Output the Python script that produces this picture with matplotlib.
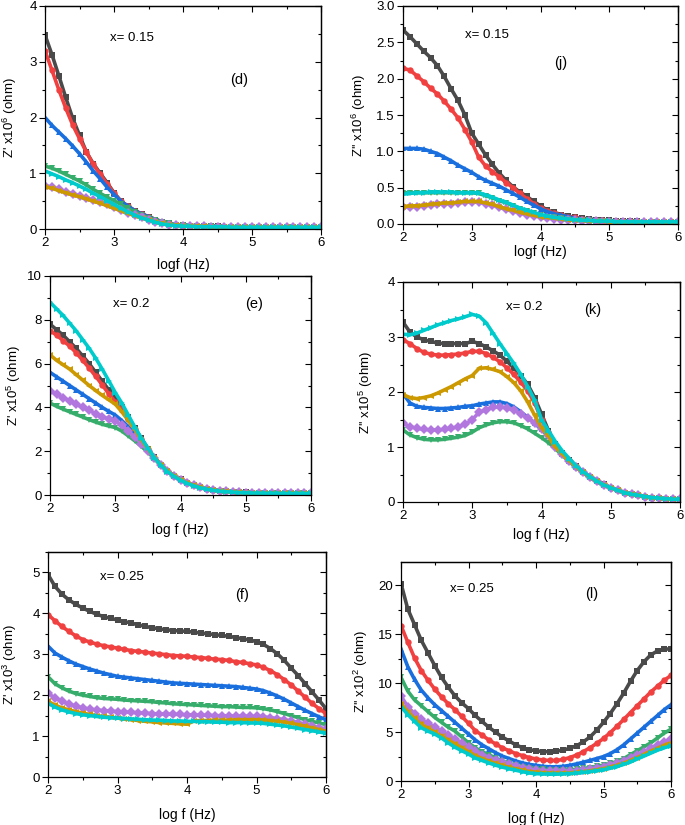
import numpy as np
import matplotlib
matplotlib.use("Agg")
import matplotlib.pyplot as plt
from matplotlib.ticker import MultipleLocator, FormatStrFormatter

plt.rcParams['font.family'] = ['Liberation Sans', 'DejaVu Sans']
plt.rcParams['mathtext.fontset'] = 'custom'
plt.rcParams['mathtext.rm'] = 'Liberation Sans'
plt.rcParams['mathtext.it'] = 'Liberation Sans:italic'

# log f grid (Hz), same for all panels
logf = [2.0, 2.1, 2.2, 2.3, 2.4, 2.5, 2.6, 2.7, 2.8, 2.9,
        3.0, 3.1, 3.2, 3.3, 3.4, 3.5, 3.6, 3.7, 3.8, 3.9,
        4.0, 4.1, 4.2, 4.3, 4.4, 4.5, 4.6, 4.7, 4.8, 4.9,
        5.0, 5.1, 5.2, 5.3, 5.4, 5.5, 5.6, 5.7, 5.8, 5.9,
        6.0]

# series order: black, red, blue, green, purple, gold, cyan
colors = ['#4a4a4a', '#f14040', '#1a6fdf', '#37ad6b', '#b177de', '#cc9900', '#00cbcc']
markers = ['s', 'o', '^', 'v', 'D', '<', '>']

# (d) Z' x10^6, x = 0.15
d_black = [3.48, 3.13, 2.75, 2.36, 1.99, 1.68, 1.38, 1.17, 1.00, 0.83,
           0.65, 0.50, 0.41, 0.33, 0.27, 0.22, 0.17, 0.13, 0.10, 0.08,
           0.07, 0.06, 0.06, 0.05, 0.05, 0.05, 0.04, 0.04, 0.04, 0.04,
           0.04, 0.04, 0.03, 0.03, 0.03, 0.03, 0.03, 0.03, 0.03, 0.03, 0.03]
d_red = [3.20, 2.85, 2.50, 2.17, 1.87, 1.62, 1.38, 1.16, 0.98, 0.81,
         0.64, 0.50, 0.41, 0.33, 0.27, 0.22, 0.17, 0.13, 0.10, 0.08,
         0.07, 0.06, 0.06, 0.05, 0.05, 0.05, 0.04, 0.04, 0.04, 0.04,
         0.04, 0.04, 0.03, 0.03, 0.03, 0.03, 0.03, 0.03, 0.03, 0.03, 0.03]
d_blue = [2.00, 1.86, 1.74, 1.62, 1.49, 1.35, 1.20, 1.04, 0.90, 0.75,
          0.62, 0.50, 0.41, 0.33, 0.27, 0.22, 0.17, 0.13, 0.10, 0.08,
          0.07, 0.06, 0.06, 0.05, 0.05, 0.05, 0.04, 0.04, 0.04, 0.04,
          0.04, 0.04, 0.03, 0.03, 0.03, 0.03, 0.03, 0.03, 0.03, 0.03, 0.03]
d_green = [1.13, 1.09, 1.04, 0.98, 0.92, 0.86, 0.79, 0.71, 0.64, 0.57,
           0.51, 0.44, 0.37, 0.31, 0.25, 0.20, 0.16, 0.12, 0.10, 0.08,
           0.07, 0.06, 0.05, 0.05, 0.05, 0.04, 0.04, 0.04, 0.04, 0.04,
           0.04, 0.03, 0.03, 0.03, 0.03, 0.03, 0.03, 0.03, 0.03, 0.03, 0.03]
d_purple = [0.78, 0.75, 0.71, 0.67, 0.63, 0.60, 0.56, 0.52, 0.48, 0.44,
            0.39, 0.34, 0.29, 0.25, 0.21, 0.17, 0.13, 0.10, 0.08, 0.07,
            0.06, 0.05, 0.05, 0.05, 0.04, 0.04, 0.04, 0.04, 0.04, 0.04,
            0.03, 0.03, 0.03, 0.03, 0.03, 0.03, 0.03, 0.03, 0.03, 0.03, 0.03]
d_gold = [0.76, 0.73, 0.69, 0.65, 0.61, 0.58, 0.54, 0.50, 0.46, 0.42,
          0.37, 0.33, 0.28, 0.24, 0.20, 0.16, 0.13, 0.10, 0.08, 0.07,
          0.06, 0.05, 0.05, 0.05, 0.04, 0.04, 0.04, 0.04, 0.04, 0.04,
          0.03, 0.03, 0.03, 0.03, 0.03, 0.03, 0.03, 0.03, 0.03, 0.03, 0.03]
d_cyan = [1.04, 0.99, 0.94, 0.88, 0.83, 0.77, 0.71, 0.64, 0.58, 0.51,
          0.44, 0.37, 0.31, 0.25, 0.20, 0.16, 0.12, 0.09, 0.07, 0.06,
          0.05, 0.05, 0.04, 0.04, 0.04, 0.04, 0.04, 0.03, 0.03, 0.03,
          0.03, 0.03, 0.03, 0.03, 0.03, 0.03, 0.03, 0.03, 0.03, 0.03, 0.03]

# (j) Z'' x10^6, x = 0.15
j_black = [2.67, 2.58, 2.48, 2.38, 2.29, 2.18, 2.03, 1.86, 1.70, 1.50,
           1.25, 1.10, 0.95, 0.82, 0.70, 0.60, 0.51, 0.44, 0.38, 0.31,
           0.25, 0.19, 0.16, 0.13, 0.11, 0.09, 0.08, 0.07, 0.06, 0.05,
           0.05, 0.04, 0.04, 0.04, 0.04, 0.03, 0.03, 0.03, 0.03, 0.03, 0.03]
j_red = [2.14, 2.12, 2.04, 1.96, 1.87, 1.79, 1.69, 1.58, 1.46, 1.30,
         1.13, 0.92, 0.80, 0.72, 0.65, 0.57, 0.50, 0.42, 0.35, 0.28,
         0.22, 0.18, 0.15, 0.12, 0.10, 0.09, 0.07, 0.06, 0.05, 0.05,
         0.04, 0.04, 0.04, 0.04, 0.03, 0.03, 0.03, 0.03, 0.03, 0.03, 0.03]
j_blue = [1.04, 1.04, 1.04, 1.03, 1.00, 0.97, 0.92, 0.87, 0.81, 0.76,
          0.71, 0.65, 0.60, 0.56, 0.52, 0.47, 0.42, 0.37, 0.31, 0.26,
          0.21, 0.17, 0.14, 0.12, 0.10, 0.08, 0.07, 0.06, 0.05, 0.05,
          0.04, 0.04, 0.04, 0.04, 0.03, 0.03, 0.03, 0.03, 0.03, 0.03, 0.03]
j_green = [0.43, 0.43, 0.43, 0.43, 0.43, 0.43, 0.43, 0.43, 0.43, 0.43,
           0.43, 0.42, 0.39, 0.36, 0.32, 0.29, 0.25, 0.21, 0.18, 0.15,
           0.12, 0.10, 0.09, 0.08, 0.07, 0.06, 0.05, 0.05, 0.04, 0.04,
           0.04, 0.03, 0.03, 0.03, 0.03, 0.03, 0.03, 0.03, 0.03, 0.03, 0.03]
j_purple = [0.23, 0.24, 0.24, 0.25, 0.26, 0.27, 0.28, 0.28, 0.29, 0.30,
            0.30, 0.30, 0.28, 0.26, 0.23, 0.20, 0.18, 0.15, 0.13, 0.11,
            0.10, 0.08, 0.07, 0.06, 0.05, 0.05, 0.04, 0.04, 0.04, 0.03,
            0.03, 0.03, 0.03, 0.03, 0.03, 0.03, 0.03, 0.03, 0.03, 0.03, 0.03]
j_gold = [0.24, 0.25, 0.25, 0.26, 0.27, 0.28, 0.29, 0.29, 0.30, 0.31,
          0.31, 0.31, 0.29, 0.27, 0.24, 0.21, 0.19, 0.16, 0.14, 0.12,
          0.10, 0.09, 0.08, 0.07, 0.06, 0.05, 0.05, 0.04, 0.04, 0.04,
          0.03, 0.03, 0.03, 0.03, 0.03, 0.03, 0.03, 0.03, 0.03, 0.03, 0.03]
j_cyan = [0.41, 0.42, 0.43, 0.43, 0.44, 0.44, 0.44, 0.44, 0.43, 0.43,
          0.43, 0.43, 0.40, 0.37, 0.33, 0.30, 0.26, 0.22, 0.19, 0.16,
          0.13, 0.11, 0.09, 0.08, 0.07, 0.06, 0.05, 0.05, 0.04, 0.04,
          0.04, 0.03, 0.03, 0.03, 0.03, 0.03, 0.03, 0.03, 0.03, 0.03, 0.03]

# (e) Z' x10^5, x = 0.2
e_black = [7.80, 7.55, 7.30, 7.00, 6.70, 6.35, 6.00, 5.60, 5.20, 4.80,
           4.45, 4.00, 3.55, 3.05, 2.58, 2.12, 1.72, 1.38, 1.10, 0.88,
           0.72, 0.57, 0.45, 0.36, 0.29, 0.24, 0.20, 0.17, 0.15, 0.13,
           0.12, 0.11, 0.10, 0.10, 0.09, 0.09, 0.09, 0.08, 0.08, 0.08, 0.08]
e_red = [7.50, 7.30, 7.05, 6.80, 6.50, 6.15, 5.80, 5.42, 5.03, 4.62,
         4.25, 3.90, 3.48, 3.02, 2.56, 2.11, 1.71, 1.37, 1.09, 0.87,
         0.71, 0.56, 0.45, 0.36, 0.29, 0.24, 0.20, 0.17, 0.15, 0.13,
         0.12, 0.11, 0.10, 0.10, 0.09, 0.09, 0.09, 0.08, 0.08, 0.08, 0.08]
e_blue = [5.60, 5.40, 5.20, 5.00, 4.80, 4.60, 4.40, 4.20, 4.00, 3.82,
          3.65, 3.40, 3.12, 2.80, 2.45, 2.05, 1.68, 1.36, 1.09, 0.87,
          0.70, 0.56, 0.44, 0.35, 0.28, 0.23, 0.19, 0.16, 0.14, 0.12,
          0.11, 0.10, 0.10, 0.09, 0.09, 0.08, 0.08, 0.08, 0.08, 0.07, 0.07]
e_green = [4.20, 4.05, 3.92, 3.80, 3.68, 3.56, 3.44, 3.33, 3.23, 3.15,
           3.08, 2.92, 2.70, 2.47, 2.22, 1.95, 1.66, 1.36, 1.09, 0.87,
           0.70, 0.56, 0.44, 0.35, 0.28, 0.23, 0.19, 0.16, 0.14, 0.12,
           0.11, 0.10, 0.10, 0.09, 0.09, 0.08, 0.08, 0.08, 0.08, 0.07, 0.07]
e_purple = [4.75, 4.60, 4.45, 4.30, 4.15, 4.00, 3.86, 3.72, 3.58, 3.47,
            3.38, 3.18, 2.92, 2.65, 2.35, 2.02, 1.68, 1.36, 1.09, 0.87,
            0.70, 0.56, 0.44, 0.35, 0.28, 0.23, 0.19, 0.16, 0.14, 0.12,
            0.11, 0.10, 0.10, 0.09, 0.09, 0.08, 0.08, 0.08, 0.08, 0.07, 0.07]
e_gold = [6.40, 6.15, 5.95, 5.75, 5.50, 5.25, 5.00, 4.77, 4.55, 4.35,
          4.15, 3.80, 3.40, 2.98, 2.52, 2.10, 1.70, 1.37, 1.09, 0.87,
          0.70, 0.56, 0.44, 0.35, 0.28, 0.23, 0.19, 0.16, 0.14, 0.12,
          0.11, 0.10, 0.10, 0.09, 0.09, 0.08, 0.08, 0.08, 0.08, 0.07, 0.07]
e_cyan = [8.80, 8.50, 8.20, 7.85, 7.50, 7.10, 6.70, 6.25, 5.75, 5.22,
          4.68, 4.20, 3.65, 3.10, 2.60, 2.15, 1.70, 1.35, 1.07, 0.85,
          0.67, 0.53, 0.42, 0.33, 0.26, 0.21, 0.17, 0.15, 0.13, 0.11,
          0.10, 0.09, 0.09, 0.08, 0.08, 0.08, 0.07, 0.07, 0.07, 0.07, 0.07]

# (k) Z'' x10^5, x = 0.2
k_black = [3.27, 3.09, 3.00, 2.95, 2.92, 2.89, 2.88, 2.88, 2.88, 2.88,
           2.92, 2.88, 2.82, 2.75, 2.67, 2.56, 2.44, 2.30, 2.14, 1.90,
           1.60, 1.30, 1.05, 0.90, 0.77, 0.65, 0.55, 0.46, 0.39, 0.32,
           0.26, 0.21, 0.17, 0.14, 0.12, 0.10, 0.08, 0.07, 0.06, 0.05, 0.05]
k_red = [2.95, 2.88, 2.79, 2.72, 2.69, 2.67, 2.67, 2.68, 2.69, 2.71,
         2.74, 2.74, 2.70, 2.63, 2.55, 2.44, 2.32, 2.18, 2.02, 1.80,
         1.50, 1.28, 1.05, 0.90, 0.77, 0.65, 0.55, 0.46, 0.39, 0.32,
         0.26, 0.21, 0.17, 0.14, 0.12, 0.10, 0.08, 0.07, 0.06, 0.05, 0.05]
k_blue = [1.97, 1.80, 1.74, 1.72, 1.71, 1.70, 1.70, 1.71, 1.72, 1.74,
          1.75, 1.78, 1.80, 1.82, 1.82, 1.79, 1.73, 1.64, 1.54, 1.43,
          1.32, 1.20, 1.02, 0.88, 0.75, 0.64, 0.54, 0.45, 0.38, 0.31,
          0.26, 0.21, 0.17, 0.14, 0.12, 0.10, 0.08, 0.07, 0.06, 0.05, 0.05]
k_green = [1.31, 1.22, 1.17, 1.14, 1.13, 1.13, 1.14, 1.16, 1.18, 1.21,
           1.27, 1.35, 1.40, 1.44, 1.46, 1.46, 1.44, 1.39, 1.33, 1.25,
           1.17, 1.08, 0.97, 0.85, 0.73, 0.63, 0.53, 0.44, 0.37, 0.30,
           0.25, 0.21, 0.17, 0.14, 0.12, 0.10, 0.08, 0.07, 0.06, 0.05, 0.05]
k_purple = [1.43, 1.37, 1.34, 1.32, 1.31, 1.31, 1.32, 1.34, 1.37, 1.41,
            1.50, 1.63, 1.68, 1.72, 1.73, 1.71, 1.67, 1.60, 1.52, 1.44,
            1.33, 1.22, 1.00, 0.87, 0.75, 0.64, 0.54, 0.45, 0.38, 0.31,
            0.26, 0.21, 0.17, 0.14, 0.12, 0.10, 0.08, 0.07, 0.06, 0.05, 0.05]
k_gold = [1.95, 1.90, 1.88, 1.90, 1.93, 1.98, 2.04, 2.10, 2.17, 2.24,
          2.30, 2.43, 2.44, 2.41, 2.37, 2.28, 2.17, 2.02, 1.82, 1.58,
          1.35, 1.20, 1.00, 0.87, 0.75, 0.64, 0.54, 0.45, 0.38, 0.31,
          0.26, 0.21, 0.17, 0.14, 0.12, 0.10, 0.08, 0.07, 0.06, 0.05, 0.05]
k_cyan = [3.05, 3.04, 3.07, 3.12, 3.17, 3.22, 3.26, 3.30, 3.33, 3.37,
          3.41, 3.38, 3.26, 3.07, 2.88, 2.70, 2.52, 2.32, 2.10, 1.85,
          1.50, 1.30, 1.10, 0.93, 0.79, 0.66, 0.55, 0.46, 0.38, 0.31,
          0.26, 0.21, 0.17, 0.14, 0.12, 0.10, 0.08, 0.07, 0.06, 0.05, 0.05]

# (f) Z' x10^3, x = 0.25
f_black = [4.95, 4.66, 4.47, 4.33, 4.22, 4.13, 4.05, 3.98, 3.92, 3.88,
           3.84, 3.80, 3.76, 3.72, 3.68, 3.65, 3.62, 3.60, 3.58, 3.57,
           3.56, 3.54, 3.52, 3.50, 3.48, 3.46, 3.44, 3.41, 3.38, 3.35,
           3.31, 3.24, 3.14, 3.01, 2.85, 2.66, 2.48, 2.28, 2.08, 1.88, 1.67]
f_red = [3.97, 3.82, 3.68, 3.56, 3.45, 3.36, 3.30, 3.25, 3.21, 3.18,
         3.15, 3.12, 3.09, 3.07, 3.05, 3.03, 3.01, 2.99, 2.97, 2.96,
         2.95, 2.93, 2.92, 2.90, 2.88, 2.87, 2.85, 2.82, 2.80, 2.77,
         2.74, 2.68, 2.60, 2.50, 2.38, 2.25, 2.10, 1.95, 1.80, 1.67, 1.55]
f_blue = [3.20, 3.03, 2.93, 2.84, 2.76, 2.70, 2.64, 2.59, 2.54, 2.50,
          2.46, 2.44, 2.42, 2.40, 2.38, 2.36, 2.34, 2.32, 2.30, 2.29,
          2.28, 2.27, 2.26, 2.25, 2.24, 2.23, 2.22, 2.21, 2.19, 2.17,
          2.15, 2.11, 2.05, 1.98, 1.90, 1.81, 1.72, 1.63, 1.55, 1.47, 1.40]
f_green = [2.45, 2.28, 2.18, 2.10, 2.04, 2.00, 1.97, 1.94, 1.92, 1.91,
           1.90, 1.88, 1.87, 1.86, 1.85, 1.84, 1.82, 1.81, 1.79, 1.78,
           1.77, 1.76, 1.75, 1.74, 1.73, 1.72, 1.72, 1.71, 1.70, 1.70,
           1.69, 1.67, 1.64, 1.60, 1.55, 1.50, 1.45, 1.40, 1.36, 1.32, 1.28]
f_purple = [2.05, 1.93, 1.85, 1.78, 1.73, 1.69, 1.66, 1.64, 1.62, 1.61,
            1.60, 1.59, 1.58, 1.57, 1.56, 1.55, 1.54, 1.54, 1.53, 1.53,
            1.52, 1.52, 1.51, 1.51, 1.50, 1.50, 1.49, 1.49, 1.49, 1.48,
            1.48, 1.47, 1.45, 1.43, 1.40, 1.37, 1.33, 1.29, 1.25, 1.21, 1.17]
f_gold = [1.85, 1.76, 1.69, 1.64, 1.60, 1.56, 1.53, 1.50, 1.48, 1.46,
          1.44, 1.42, 1.40, 1.38, 1.36, 1.35, 1.33, 1.32, 1.31, 1.30,
          1.29, 1.37, 1.38, 1.38, 1.39, 1.39, 1.39, 1.40, 1.40, 1.40,
          1.40, 1.39, 1.38, 1.36, 1.34, 1.31, 1.28, 1.24, 1.20, 1.16, 1.12]
f_cyan = [1.80, 1.71, 1.64, 1.59, 1.55, 1.52, 1.50, 1.48, 1.46, 1.45,
          1.44, 1.43, 1.42, 1.41, 1.40, 1.39, 1.39, 1.38, 1.37, 1.37,
          1.36, 1.36, 1.35, 1.35, 1.34, 1.34, 1.33, 1.33, 1.33, 1.32,
          1.32, 1.31, 1.29, 1.27, 1.25, 1.22, 1.19, 1.16, 1.13, 1.10, 1.07]

# (l) Z'' x10^2, x = 0.25
l_black = [20.2, 17.6, 16.0, 14.4, 13.1, 11.8, 10.6, 9.6, 8.7, 8.0,
           7.4, 6.7, 6.1, 5.5, 5.0, 4.5, 4.1, 3.7, 3.4, 3.2,
           3.1, 3.0, 3.0, 3.05, 3.15, 3.35, 3.6, 4.0, 4.5, 5.2,
           6.0, 6.9, 7.9, 9.0, 10.2, 11.3, 12.2, 12.9, 13.3, 13.5, 13.5]
l_red = [15.9, 14.2, 12.6, 11.3, 10.3, 9.4, 8.6, 7.9, 7.3, 6.6,
         5.9, 5.15, 4.7, 4.2, 3.8, 3.4, 3.1, 2.8, 2.6, 2.4,
         2.25, 2.15, 2.1, 2.1, 2.2, 2.4, 2.65, 3.0, 3.4, 3.85,
         4.35, 4.95, 5.6, 6.3, 7.0, 7.7, 8.4, 9.1, 9.7, 10.3, 10.8]
l_blue = [13.5, 11.7, 10.4, 9.3, 8.5, 7.8, 7.2, 6.6, 6.0, 5.4,
          4.8, 4.2, 3.7, 3.3, 2.9, 2.55, 2.3, 2.05, 1.85, 1.7,
          1.6, 1.5, 1.45, 1.45, 1.5, 1.6, 1.75, 1.92, 2.1, 2.3,
          2.5, 2.8, 3.2, 3.7, 4.3, 4.9, 5.5, 6.1, 6.7, 7.3, 7.8]
l_green = [10.6, 9.2, 8.3, 7.7, 7.1, 6.5, 6.0, 5.5, 5.1, 4.5,
           3.9, 3.4, 3.0, 2.7, 2.35, 2.05, 1.8, 1.6, 1.45, 1.33,
           1.25, 1.2, 1.15, 1.12, 1.12, 1.15, 1.2, 1.28, 1.38, 1.5,
           1.62, 1.8, 2.0, 2.3, 2.7, 3.1, 3.5, 3.9, 4.4, 4.9, 5.3]
l_purple = [8.7, 7.6, 6.9, 6.3, 5.9, 5.5, 5.1, 4.7, 4.3, 3.9,
            3.5, 3.05, 2.7, 2.4, 2.15, 1.9, 1.7, 1.5, 1.35, 1.2,
            1.1, 1.05, 1.0, 0.98, 0.98, 1.0, 1.05, 1.12, 1.22, 1.33,
            1.45, 1.6, 1.8, 2.05, 2.35, 2.7, 3.0, 3.35, 3.7, 4.0, 4.3]
l_gold = [7.9, 7.1, 6.4, 5.8, 5.4, 5.0, 4.6, 4.2, 3.8, 3.4,
          3.0, 2.6, 2.3, 2.05, 1.8, 1.6, 1.4, 1.25, 1.1, 0.97,
          0.9, 0.85, 0.82, 0.8, 0.8, 0.82, 0.87, 0.94, 1.03, 1.14,
          1.27, 1.42, 1.6, 1.82, 2.1, 2.4, 2.72, 3.05, 3.35, 3.65, 3.9]
l_cyan = [7.6, 6.8, 6.1, 5.45, 5.1, 4.8, 4.4, 3.9, 3.45, 3.1,
          2.75, 2.35, 2.1, 1.85, 1.62, 1.42, 1.25, 1.1, 0.95, 0.82,
          0.75, 0.72, 0.7, 0.7, 0.72, 0.75, 0.8, 0.87, 0.96, 1.05,
          1.15, 1.3, 1.48, 1.7, 1.95, 2.25, 2.55, 2.85, 3.15, 3.4, 3.6]

W, H = 685.0, 825.0


def px_rect(left, top, right, bottom):
    # axes rectangle from pixel edges of the reference
    return [left / W, 1 - bottom / H, (right - left) / W, (bottom - top) / H]


panels = [
    # rect, series, ylim, major, fmt, ylabel, xlabel, ylab_x, xlab_y, note, note_xy, tag, tag_xy
    (px_rect(45, 6, 321, 229), [d_black, d_red, d_blue, d_green, d_purple, d_gold, d_cyan],
     (0, 4), 1, '%d', "Z' x10$^6$ (ohm)", "logf (Hz)", -0.094, -0.130,
     "x= 0.15", (3.26, 3.42), "(d)", (4.82, 2.68)),
    (px_rect(403, 6, 678, 224), [j_black, j_red, j_blue, j_green, j_purple, j_gold, j_cyan],
     (0, 3), 0.5, '%.1f', "Z'' x10$^6$ (ohm)", "logf (Hz)", -0.127, -0.098,
     "x= 0.15", (3.22, 2.6), "(j)", (4.3, 2.21)),
    (px_rect(50, 276, 311, 495), [e_black, e_red, e_blue, e_green, e_purple, e_gold, e_cyan],
     (0, 10), 2, '%d', "Z' x10$^5$ (ohm)", "log f (Hz)", -0.103, -0.128,
     "x= 0.2", (3.24, 8.7), "(e)", (5.12, 8.74)),
    (px_rect(403, 282, 680, 502), [k_black, k_red, k_blue, k_green, k_purple, k_gold, k_cyan],
     (0, 4), 1, '%d', "Z'' x10$^5$ (ohm)", "log f (Hz)", -0.101, -0.118,
     "x= 0.2", (3.75, 3.55), "(k)", (4.74, 3.49)),
    (px_rect(48, 552, 326, 777), [f_black, f_red, f_blue, f_green, f_purple, f_gold, f_cyan],
     (0, 5.5), 1, '%d', "Z' x10$^3$ (ohm)", "log f (Hz)", -0.104, -0.138,
     "x= 0.25", (3.06, 4.9), "(f)", (4.79, 4.45)),
    (px_rect(401, 562, 671, 781), [l_black, l_red, l_blue, l_green, l_purple, l_gold, l_cyan],
     (0, 22.4), 5, '%d', "Z'' x10$^2$ (ohm)", "log f (Hz)", -0.115, -0.142,
     "x= 0.25", (3.05, 19.6), "(l)", (4.83, 19.1)),
]

fig = plt.figure(figsize=(6.85, 8.25), dpi=100)

for (rect, series, ylim, major, fmt, ylab, xlab, ylx, xly,
     note, note_xy, tag, tag_xy) in panels:
    ax = fig.add_axes(rect)
    for y, c, m in zip(series, colors, markers):
        ax.plot(logf, y, color=c, marker=m, ms=4.6, mew=0, lw=2.6)
    ax.set_xlim(2, 6)
    ax.set_ylim(*ylim)
    ax.xaxis.set_major_locator(MultipleLocator(1))
    ax.xaxis.set_minor_locator(MultipleLocator(0.5))
    ax.yaxis.set_major_locator(MultipleLocator(major))
    ax.yaxis.set_minor_locator(MultipleLocator(major / 2))
    ax.yaxis.set_major_formatter(FormatStrFormatter(fmt))
    # left/bottom ticks point out, labelled
    ax.tick_params(which='both', direction='out', width=0.8, labelsize=9.5, pad=2)
    ax.tick_params(which='major', length=4)
    ax.tick_params(which='minor', length=2.2)
    # top/right: mirrored ticks pointing in, no labels
    top = ax.secondary_xaxis('top')
    top.xaxis.set_major_locator(MultipleLocator(1))
    top.xaxis.set_minor_locator(MultipleLocator(0.5))
    top.tick_params(which='both', direction='in', labeltop=False, width=0.8)
    top.tick_params(which='major', length=4)
    top.tick_params(which='minor', length=2.2)
    right = ax.secondary_yaxis('right')
    right.yaxis.set_major_locator(MultipleLocator(major))
    right.yaxis.set_minor_locator(MultipleLocator(major / 2))
    right.tick_params(which='both', direction='in', labelright=False, width=0.8)
    right.tick_params(which='major', length=4)
    right.tick_params(which='minor', length=2.2)
    for s in list(ax.spines.values()) + [top.spines['top'], right.spines['right']]:
        s.set_linewidth(0.9)
    ax.set_ylabel(ylab, fontsize=9.5)
    ax.set_xlabel(xlab, fontsize=10)
    ax.yaxis.set_label_coords(ylx, 0.5)
    ax.xaxis.set_label_coords(0.5, xly)
    ax.text(note_xy[0], note_xy[1], note, fontsize=9.5, ha='center', va='center')
    ax.text(tag_xy[0], tag_xy[1], tag, fontsize=10.5, ha='center', va='center')

fig.savefig("out.png", dpi=100)
